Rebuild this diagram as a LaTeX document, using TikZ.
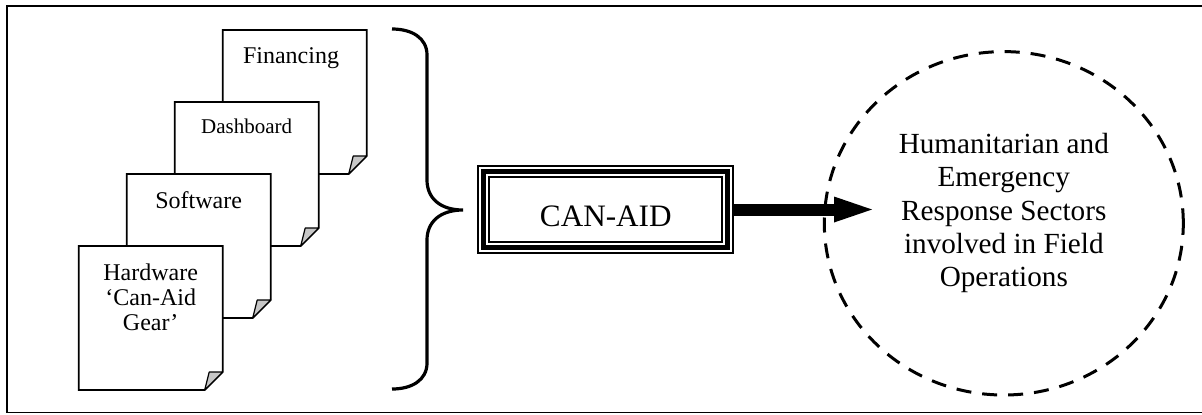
\documentclass[tikz,border=0pt]{standalone}
\usepackage{fontspec}
\setmainfont{Liberation Serif}
\usetikzlibrary{shapes.geometric, arrows.meta}

\begin{document}
\begin{tikzpicture}[
  x=0.5pt, y=-0.5pt,
  framebox/.style={line width=0.65pt},
  pagesheet/.style={draw, fill=white, line width=0.9pt, line join=miter},
  curlcorner/.style={draw, fill=black!22, line width=0.6pt, line join=round},
  pagetext/.style={anchor=north, inner sep=0pt, align=center, font=\fontsize{12}{12.5}\selectfont},
  bracepath/.style={line width=1.6pt},
  canbox/.style={draw, line width=1pt, outer sep=0pt, inner sep=0pt,
    minimum width=127.5pt, minimum height=43.5pt, font=\fontsize{15.6}{18}\selectfont},
  ring/.style={ellipse, draw, line width=1.5pt, dash pattern=on 7.5pt off 5.5pt,
    minimum width=179.5pt, minimum height=171.7pt, inner sep=0pt},
  ringtext/.style={align=center, inner sep=0pt, font=\fontsize{14.6}{16.7}\selectfont},
  bigarrow/.style={line width=6pt, -{Triangle[length=19pt, width=13pt, line width=0pt]}}]

  \useasboundingbox (0,0) rectangle (1202,414);
  \draw[framebox] (1202,6) -- (7,6) -- (7,412.7) -- (1202,412.7);

  \draw[pagesheet] (222.7,30) -- ++(144,0) -- ++(0,126) -- ++(-18,18) -- ++(-126,0) -- cycle;
  \draw[curlcorner] (366.7,156) -- ++(-13.5,0) -- ++(-4.5,18) -- cycle;
  \node[pagetext] (financing) at (291,47) {Financing};

  \draw[pagesheet] (174.7,102) -- ++(144,0) -- ++(0,126) -- ++(-18,18) -- ++(-126,0) -- cycle;
  \draw[curlcorner] (318.7,228) -- ++(-13.5,0) -- ++(-4.5,18) -- cycle;
  \node[pagetext, font=\fontsize{10.5}{12}\selectfont] (dashboard) at (246.7,119) {Dashboard};

  \draw[pagesheet] (126.7,174) -- ++(144,0) -- ++(0,126) -- ++(-18,18) -- ++(-126,0) -- cycle;
  \draw[curlcorner] (270.7,300) -- ++(-13.5,0) -- ++(-4.5,18) -- cycle;
  \node[pagetext] (software) at (198.7,191) {Software};

  \draw[pagesheet] (78.7,246) -- ++(144,0) -- ++(0,126) -- ++(-18,18) -- ++(-126,0) -- cycle;
  \draw[curlcorner] (222.7,372) -- ++(-13.5,0) -- ++(-4.5,18) -- cycle;
  \node[pagetext] (hardware) at (150.7,263) {Hardware\\‘Can-Aid\\Gear’};

  \draw[bracepath] (392,29) .. controls (412,29) and (427,38) .. (427,55)
    -- (427,180) .. controls (427,198) and (440,210) .. (463,210)
    .. controls (440,210) and (427,222) .. (427,240)
    -- (427,363) .. controls (427,380) and (412,389) .. (392,389);

  \node[canbox] (canaid) at (605.8,209.5) {\raisebox{-8.6pt}[0pt][0pt]{CAN-AID}};
  \draw[line width=2.5pt] ([shift={(2.75pt,-2.75pt)}]canaid.north west) rectangle ([shift={(-2.75pt,2.75pt)}]canaid.south east);
  \draw[line width=1pt] ([shift={(5.5pt,-5.5pt)}]canaid.north west) rectangle ([shift={(-5.5pt,5.5pt)}]canaid.south east);

  \node[ring] (sectors) at (1003.8,223.3) {};
  \node[ringtext] (sectorstext) at (1003.8,213) {Humanitarian and\\Emergency\\Response Sectors\\involved in Field\\Operations};

  \coordinate (tip) at (872,209.5);
  \draw[bigarrow] (canaid.east) -- (tip);
\end{tikzpicture}
\end{document}
